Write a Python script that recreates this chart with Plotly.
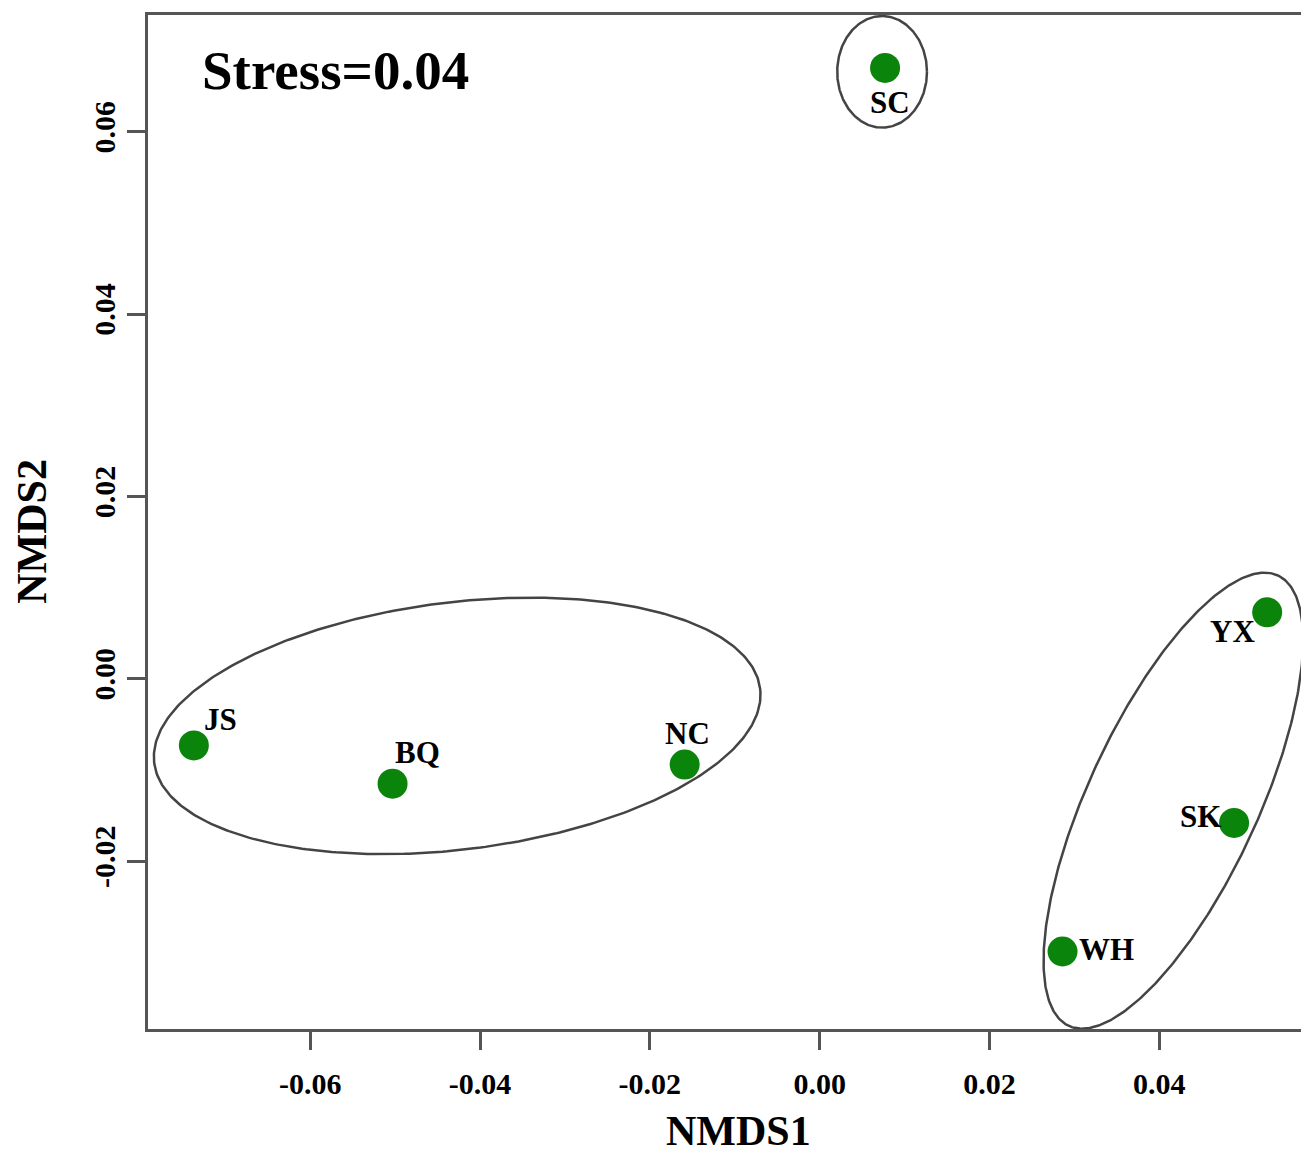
import numpy as np
import plotly.graph_objects as go

# ---- data ----
sites = ["SC", "JS", "BQ", "NC", "YX", "SK", "WH"]
nmds1 = [0.0077, -0.0737, -0.0503, -0.0159, 0.0527, 0.0488, 0.0286]
nmds2 = [0.0670, -0.0073, -0.0115, -0.0094, 0.0073, -0.0158, -0.0299]
x_ticks = [-0.06, -0.04, -0.02, 0.00, 0.02, 0.04]
y_ticks = [-0.02, 0.00, 0.02, 0.04, 0.06]
# group ellipses: centre (data), semi-axes (px), rotation (deg, ccw)
ell_cx = [0.00735, -0.04269, 0.04165]
ell_cy = [0.06657, -0.00516, -0.01336]
ell_a = [45, 306, 249]
ell_b = [56, 124, 85]
ell_ang = [0, 7, 65.1]
stress_text = "Stress=0.04"
x_title = "NMDS1"
y_title = "NMDS2"

# ---- layout constants (page body has an 8px margin) ----
W, H = 1301, 1150
ML, MR, MT, MB = 140, 4, 4, 129
xr = [-0.0791, 0.0568]
yr = [-0.0384, 0.0728]
pw, ph = W - ML - MR, H - MT - MB
ppx = pw / (xr[1] - xr[0])
ppy = ph / (yr[1] - yr[0])

# label offsets (px): dx right, dy up
lab_dx = [5, 27, 25, 3, -35, -34, 44]
lab_dy = [-35, 26, 31, 31, -19, 6, 2]

FONT = "Liberation Serif"
fig = go.Figure()

t = np.linspace(0, 2 * np.pi, 400)
for cx, cy, a, b, ang in zip(ell_cx, ell_cy, ell_a, ell_b, ell_ang):
    th = np.deg2rad(ang)
    u, v = a * np.cos(t), b * np.sin(t)
    dx = u * np.cos(th) - v * np.sin(th)
    dy = u * np.sin(th) + v * np.cos(th)
    fig.add_trace(go.Scatter(x=cx + dx / ppx, y=cy + dy / ppy, mode="lines",
                             line=dict(color="#444444", width=2.5),
                             hoverinfo="skip", showlegend=False))

fig.add_trace(go.Scatter(x=nmds1, y=nmds2, mode="markers",
                         marker=dict(size=30, color="#0a840a"),
                         text=sites, showlegend=False))

for s, x, y, dx, dy in zip(sites, nmds1, nmds2, lab_dx, lab_dy):
    fig.add_annotation(x=x, y=y, text=f"<b>{s}</b>", showarrow=False,
                       xshift=dx, yshift=dy,
                       font=dict(family=FONT, size=31, color="black"))

fig.add_annotation(xref="paper", yref="paper", x=(192 - ML) / pw, y=(H - MB - 60) / ph,
                   xanchor="left", yanchor="middle", showarrow=False,
                   text=f"<b>{stress_text}</b>",
                   font=dict(family=FONT, size=55, color="black"))

# axis titles placed as annotations
fig.add_annotation(xref="paper", yref="paper", x=(732 - ML) / pw, y=(H - MB - 1123) / ph,
                   xanchor="center", yanchor="middle", showarrow=False,
                   text=f"<b>{x_title}</b>",
                   font=dict(family=FONT, size=42, color="black"))
fig.add_annotation(xref="paper", yref="paper", x=(24 - ML) / pw, y=(H - MB - 522) / ph,
                   xanchor="center", yanchor="middle", showarrow=False, textangle=-90,
                   text=f"<b>{y_title}</b>",
                   font=dict(family=FONT, size=42, color="black"))

axis_common = dict(showgrid=False, zeroline=False, showline=True, mirror=True,
                   linecolor="#555555", linewidth=3, ticks="outside", ticklen=18,
                   tickwidth=3, tickcolor="#555555",
                   tickfont=dict(family=FONT, size=30, color="black"))

fig.update_xaxes(range=xr, tickvals=x_ticks,
                 ticktext=[f"<b>{v:.2f}</b>" for v in x_ticks],
                 ticklabelstandoff=8, **axis_common)
fig.update_yaxes(range=yr, tickvals=y_ticks,
                 ticktext=[f"<b>{v:.2f}</b>" for v in y_ticks],
                 tickangle=-90,
                 ticklabelstandoff=0, **axis_common)

fig.update_layout(width=W, height=H, margin=dict(l=ML, r=MR, t=MT, b=MB),
                  plot_bgcolor="white", paper_bgcolor="white")

fig.write_html("out.html")
